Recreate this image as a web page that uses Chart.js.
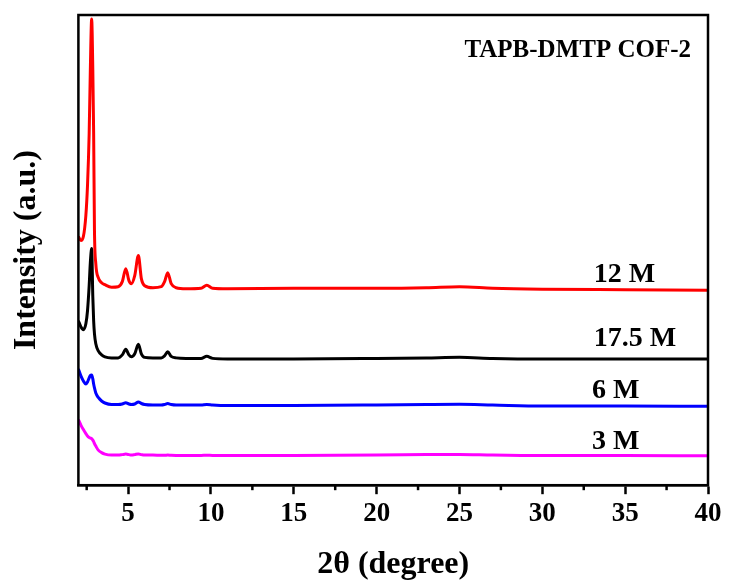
<!DOCTYPE html>
<html>
<head>
<meta charset="utf-8">
<script src="https://cdn.jsdelivr.net/npm/chart.js@4"></script>
<style>
  html, body { margin: 0; padding: 0; background: #fff; }
  #wrap { width: 729px; height: 587px; }
</style>
</head>
<body>
<div id="wrap"><canvas id="xrdChart" width="729" height="587"></canvas></div>
<script>
/* ~~~~~~~~~~ DATA ~~~~~~~~~~*/

// 2-theta positions (degree)
const twoTheta = [2.0, 2.15, 2.3, 2.45, 2.55, 2.65, 2.72, 2.8, 2.87, 2.92, 2.97, 3.05, 3.2, 3.4, 3.6,
  4.0, 4.4, 4.65, 4.86, 5.05, 5.2, 5.4, 5.62, 5.8, 6.0, 6.5, 7.0, 7.2, 7.39, 7.6, 7.9, 8.5,
  9.4, 9.75, 10.1, 11, 15, 20, 23, 25, 27, 30, 35, 40];

// stacked intensities (a.u., already offset)
const int12M = [248, 244, 248, 269, 299, 351, 414, 465, 414, 351, 254, 221, 207, 202, 200,
  197.5, 198, 203, 216, 204, 201, 209, 229, 206, 199, 197, 198, 203, 212, 201, 197, 196,
  196.5, 199.5, 196.5, 196, 196.5, 196.5, 197, 198, 196.5, 195.5, 195, 194.5];

const int175M = [164, 158, 155, 161, 174, 199, 222, 236, 188, 164, 151, 141, 134, 130, 128,
  127, 127, 130, 135.5, 130, 128, 131, 140.5, 131, 127.5, 127, 127, 129, 133, 128.5, 127, 126.5,
  126.5, 128.5, 126.5, 126, 126, 126.5, 127, 127.5, 126.5, 126, 126, 126];

const int6M = [116, 109, 104, 101, 103, 107, 109.5, 110, 106, 101, 97, 92, 87.5, 84, 82,
  80.5, 80.5, 81, 82.3, 81, 80.5, 81, 83, 81.5, 80.5, 80, 80, 80.5, 81.5, 80.5, 80, 80,
  80, 80.5, 80, 79.5, 79.5, 80, 80.5, 80.7, 80, 79, 79, 78.7];

const int3M = [65.5, 60, 55.5, 51.5, 49, 47.5, 47, 46.5, 45, 43.5, 41.5, 39, 35, 32.5, 31,
  30, 30, 30.5, 31, 30.5, 30, 30.5, 31.2, 30.5, 30, 30, 29.8, 29.8, 30, 29.8, 29.7, 29.7,
  29.7, 29.8, 29.7, 29.7, 29.7, 30, 30.5, 30.7, 30, 29.5, 29.5, 29.3];

const seriesNames = ['12 M', '17.5 M', '6 M', '3 M'];
const seriesColors = ['#ff0000', '#000000', '#0000ff', '#ff00ff'];

// x tick labels
const majorTicks = [5, 10, 15, 20, 25, 30, 35, 40];
const minorTicks = [2.5, 7.5, 12.5, 17.5, 22.5, 27.5, 32.5, 37.5];

/* ~~~~~~~~~~ CHART ~~~~~~~~~~*/

const FONT = '"Liberation Serif", "Times New Roman", serif';

// where the series names sit (data coords, text baseline)
const labelSpots = [
  { x: 33.1, y: 203 },
  { x: 33.1, y: 139 },
  { x: 33.0, y: 87 },
  { x: 33.0, y: 36 }
];

const toPoints = (ys) => twoTheta.map((t, i) => ({ x: t, y: ys[i] }));

const frameAndText = {
  id: 'frameAndText',
  afterDraw(chart) {
    const { ctx, chartArea: a, scales: { x, y } } = chart;
    ctx.save();
    // minor ticks
    ctx.strokeStyle = '#000';
    ctx.lineWidth = 2.5;
    minorTicks.forEach(v => {
      const px = x.getPixelForValue(v);
      ctx.beginPath();
      ctx.moveTo(px, a.bottom);
      ctx.lineTo(px, a.bottom + 5);
      ctx.stroke();
    });
    // box
    ctx.strokeRect(a.left, a.top, a.right - a.left, a.bottom - a.top);

    // series names
    ctx.fillStyle = '#000';
    ctx.textBaseline = 'alphabetic';
    ctx.textAlign = 'left';
    ctx.font = 'bold 28px ' + FONT;
    seriesNames.forEach((name, i) => {
      ctx.fillText(name, x.getPixelForValue(labelSpots[i].x), y.getPixelForValue(labelSpots[i].y));
    });
    // sample name
    ctx.font = 'bold 25px ' + FONT;
    ctx.fillText('TAPB-DMTP COF-2', x.getPixelForValue(25.3), y.getPixelForValue(427));
    ctx.restore();
  }
};

const ctx = document.getElementById('xrdChart').getContext('2d');
new Chart(ctx, {
  type: 'line',
  data: {
    datasets: [int12M, int175M, int6M, int3M].map((ys, i) => ({
      label: seriesNames[i],
      data: toPoints(ys),
      borderColor: seriesColors[i],
      borderWidth: 3,
      pointRadius: 0,
      cubicInterpolationMode: 'monotone',
      fill: false
    }))
  },
  options: {
    responsive: false,
    animation: false,
    layout: { padding: { left: 0, right: 21, top: 15, bottom: 0 } },
    plugins: {
      legend: { display: false },
      tooltip: { enabled: false }
    },
    scales: {
      x: {
        type: 'linear',
        min: 2,
        max: 40,
        afterBuildTicks: (scale) => { scale.ticks = majorTicks.map(v => ({ value: v })); },
        grid: {
          drawOnChartArea: false,
          drawTicks: true,
          tickLength: 9,
          tickWidth: 2.5,
          tickColor: '#000'
        },
        border: { display: true, color: '#000', width: 2.5 },
        ticks: {
          color: '#000',
          padding: 4,
          maxRotation: 0,
          autoSkip: false,
          font: { family: FONT, size: 27, weight: 'bold' }
        },
        title: {
          display: true,
          text: '2θ (degree)',
          color: '#000',
          padding: { top: 11, bottom: 3 },
          font: { family: FONT, size: 32, weight: 'bold' }
        }
      },
      y: {
        type: 'linear',
        min: 0,
        max: 469,
        grid: { display: false, drawTicks: false, tickLength: 0 },
        border: { display: false },
        ticks: { display: false },
        title: {
          display: true,
          text: 'Intensity (a.u.)',
          color: '#000',
          padding: { top: 8, bottom: 32 },
          font: { family: FONT, size: 32, weight: 'bold' }
        }
      }
    }
  },
  plugins: [frameAndText]
});
</script>
</body>
</html>
